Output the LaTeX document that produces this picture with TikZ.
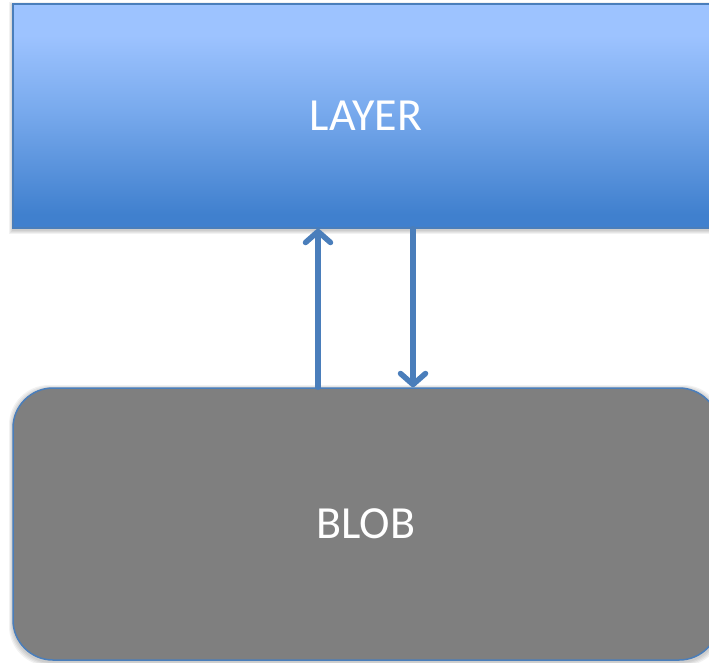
\documentclass[tikz,border=0pt]{standalone}
\usepackage{fontspec}
\setmainfont{Carlito}
\usetikzlibrary{arrows.meta}

\definecolor{edgeblue}{HTML}{4A7EBB}
\definecolor{layertop}{HTML}{9DC3FF}
\definecolor{layermid}{HTML}{7AABEE}
\definecolor{layerbot}{HTML}{4080CE}
\definecolor{blobgray}{HTML}{7F7F7F}

% the path's box covers 25bp..75bp of the shading
\pgfdeclareverticalshading{layershade}{100bp}{%
  color(0bp)=(layerbot); color(28bp)=(layerbot); color(52bp)=(layermid);
  color(68bp)=(layertop); color(100bp)=(layertop)}

\tikzset{
  panel/.style={draw=edgeblue, line width=1.5pt, text=white,
    font=\fontsize{46}{54}\selectfont, inner sep=0pt},
  layerbox/.style={panel, rectangle, shading=layershade},
  blobbox/.style={panel, rectangle, rounded corners=40pt, fill=blobgray},
  arr/.style={draw=edgeblue, line width=5.5pt, line cap=round,
    -{Straight Barb[length=11pt, width=25pt, round]}},
  softshadow/.style={fill=black, fill opacity=0.05}
}

\begin{document}
\begin{tikzpicture}[x=1pt, y=-1pt]
  \useasboundingbox (0,0) rectangle (709,662);
  \fill[white] (0,0) rectangle (709,662);
  \clip (0,0) rectangle (709,662);

  % soft drop shadows under both panels
  \foreach \d in {1,2,3,4}{
    \fill[softshadow] (13-\d,4.5-\d+1) rectangle (719+\d,228+\d+2);
    \fill[softshadow, rounded corners=40pt] (13-\d,388-\d+1) rectangle (719+\d,660+\d+2);
  }

  \node[layerbox, minimum width=706pt, minimum height=224pt] (layer) at (366,116) {LAYER};
  \node[blobbox, minimum width=706pt, minimum height=272pt] (blob) at (366,524) {BLOB};

  % data flowing up from the blob and back down
  \draw[arr] ([xshift=-48pt]blob.north) -- ([xshift=-48pt]layer.south);
  \draw[arr] ([xshift=47pt]layer.south) -- ([xshift=47pt]blob.north);
\end{tikzpicture}
\end{document}
